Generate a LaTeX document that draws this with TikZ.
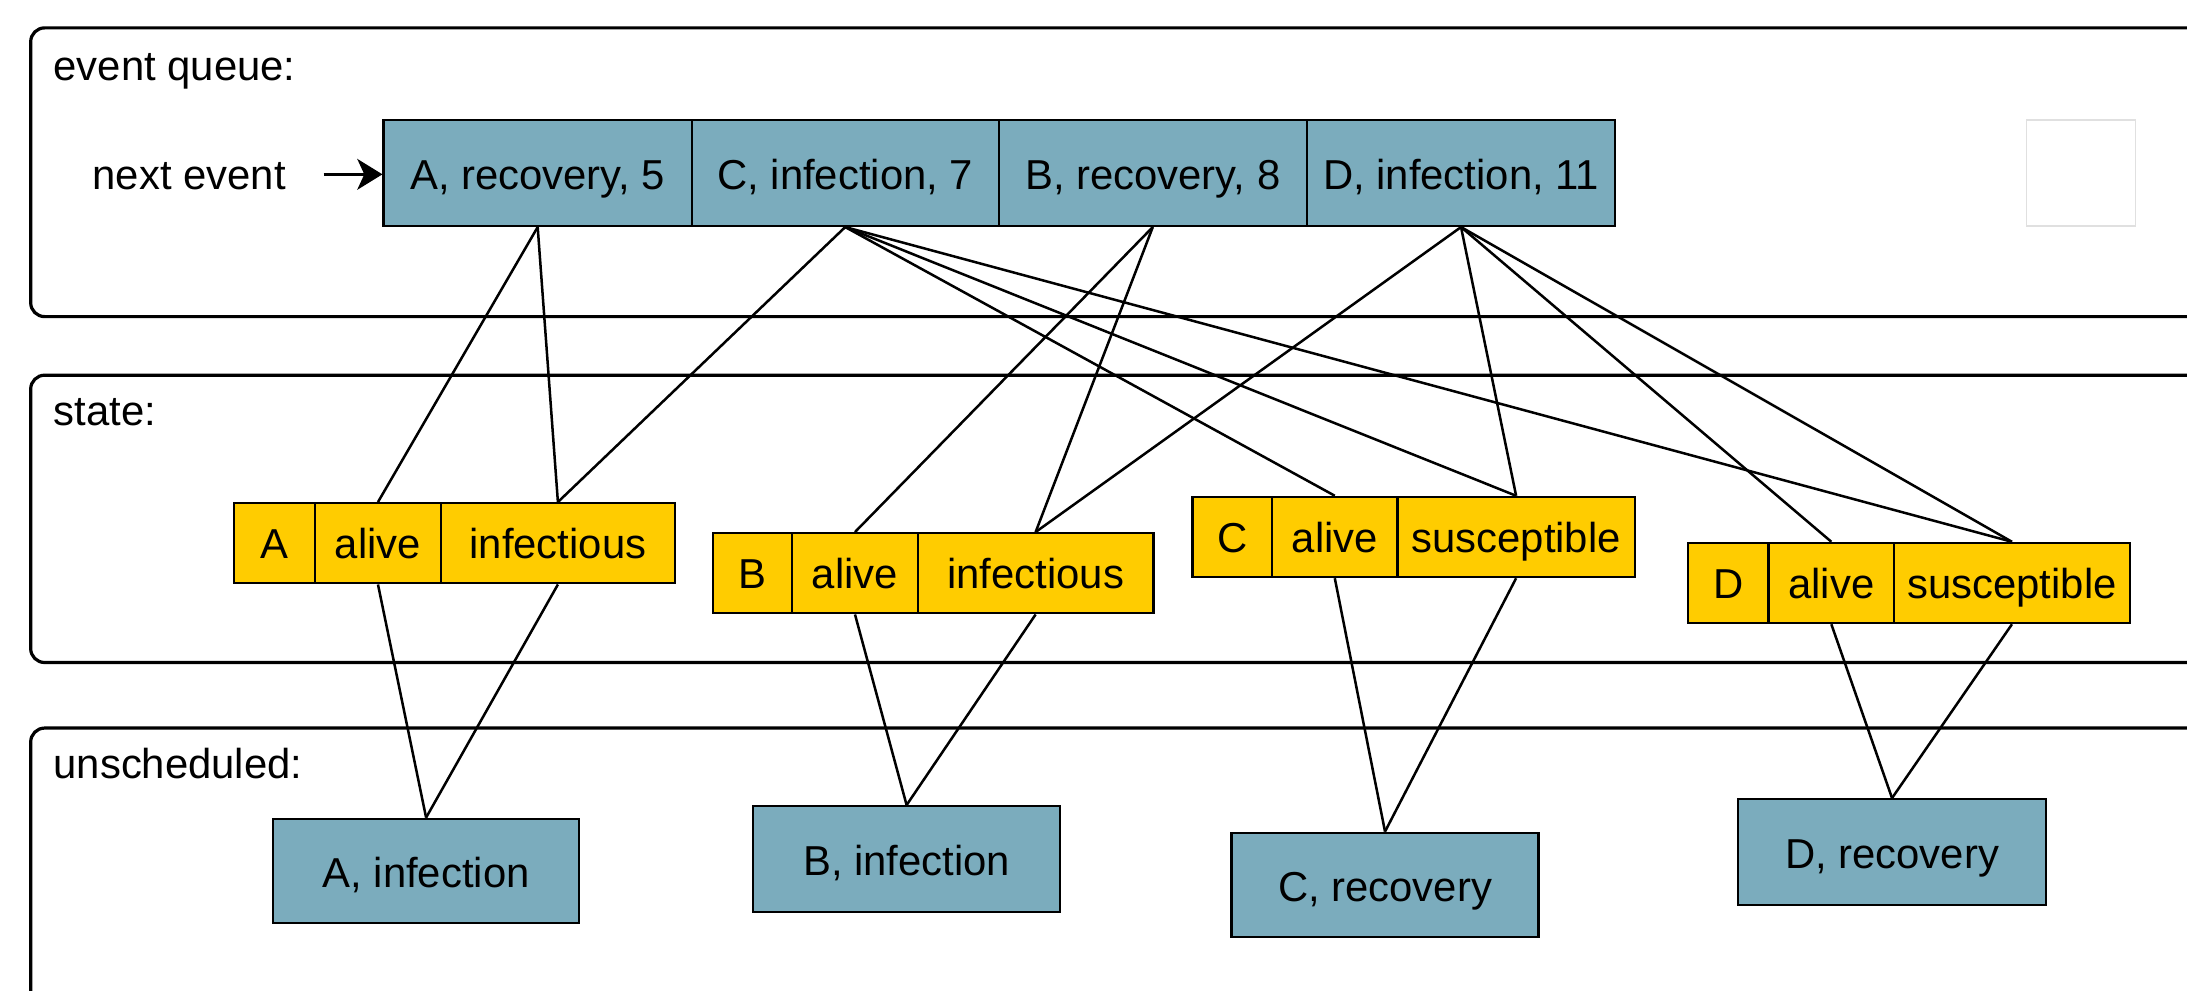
\documentclass[tikz,border=0pt]{standalone}
\usepackage{fontspec}
\setmainfont{Liberation Sans}
\usetikzlibrary{arrows.meta}
\definecolor{qblue}{RGB}{123,172,189}
\definecolor{sgold}{RGB}{255,204,0}
\begin{document}
\begin{tikzpicture}[x=0.5pt,y=-0.5pt,
  every node/.style={font=\fontsize{15}{18}\selectfont, inner sep=0pt},
  panel/.style={draw, line width=1.15pt, rounded corners=5pt},
  plabel/.style={anchor=base west},
  qcell/.style={draw, line width=0.8pt, fill=qblue, minimum height=38pt, text height=12pt, text depth=0pt},
  scell/.style={draw, line width=0.8pt, fill=sgold, minimum height=28.75pt, text height=11pt, text depth=0pt},
  ucell/.style={draw, line width=0.8pt, fill=qblue, text height=12pt, text depth=0pt},
  link/.style={line width=0.9pt}]
\useasboundingbox (0,0) rectangle (1568,710.5);
\clip (0,0) rectangle (1568,710.5);

% panels
\draw[panel] (22,20) rectangle (1610,227);
\draw[panel] (22,269) rectangle (1610,475);
\draw[panel] (22,522) rectangle (1610,780);
\node[plabel] (l1) at (38,58) {event queue:};
\node[plabel] (l2) at (38,305) {state:};
\node[plabel] (l3) at (38,558) {unscheduled:};

% event queue
\node[qcell, minimum width=110.5pt] (q1) at (385.5,124) {A, recovery, 5};
\node[qcell, minimum width=110pt] (q2) at (606,124) {C, infection, 7};
\node[qcell, minimum width=110.5pt] (q3) at (826.5,124) {B, recovery, 8};
\node[qcell, minimum width=110.5pt] (q4) at (1047.5,124) {D, infection, 11};
\node[draw=black!12, line width=0.5pt, minimum width=39pt, minimum height=38pt] (blank) at (1492,124) {};
\node[anchor=base west] (ne) at (66,136) {next event};
\coordinate (ns) at (232,125);
\draw[-{Stealth[length=9pt,width=11pt,inset=2.5pt]}, line width=1.2pt] (ns) -- (ns -| q1.west);

% state
\node[scell, minimum width=29pt] (an) at (197,389.5) {A};
\node[scell, minimum width=45pt] (aa) at (271,389.5) {alive};
\node[scell, minimum width=84pt] (ai) at (400,389.5) {infectious};
\node[scell, minimum width=28.5pt] (bn) at (539.5,411) {B};
\node[scell, minimum width=45pt] (ba) at (613,411) {alive};
\node[scell, minimum width=84.5pt] (bi) at (742.5,411) {infectious};
\node[scell, minimum width=28.5pt] (cn) at (883.5,385) {C};
\node[scell, minimum width=45pt] (ca) at (957,385) {alive};
\node[scell, minimum width=85pt] (cs) at (1087,385) {susceptible};
\node[scell, minimum width=29pt] (dn) at (1239,418) {D};
\node[scell, minimum width=45pt] (da) at (1313,418) {alive};
\node[scell, minimum width=84.5pt] (ds) at (1442.5,418) {susceptible};

% unscheduled
\node[ucell, minimum width=109.5pt, minimum height=37.5pt] (ua) at (305.5,624.5) {A, infection};
\node[ucell, minimum width=110pt, minimum height=38pt] (ub) at (650,616) {B, infection};
\node[ucell, minimum width=110pt, minimum height=37.5pt] (uc) at (993,634.5) {C, recovery};
\node[ucell, minimum width=110.5pt, minimum height=38pt] (ud) at (1356.5,611) {D, recovery};

% queue -> state
\draw[link] (q1.south) -- (aa.north);
\draw[link] (q1.south) -- (ai.north);
\draw[link] (q2.south) -- (ai.north);
\draw[link] (q2.south) -- (ca.north);
\draw[link] (q2.south) -- (cs.north);
\draw[link] (q2.south) -- (ds.north);
\draw[link] (q3.south) -- (ba.north);
\draw[link] (q3.south) -- (bi.north);
\draw[link] (q4.south) -- (bi.north);
\draw[link] (q4.south) -- (cs.north);
\draw[link] (q4.south) -- (da.north);
\draw[link] (q4.south) -- (ds.north);

% state -> unscheduled
\draw[link] (aa.south) -- (ua.north);
\draw[link] (ai.south) -- (ua.north);
\draw[link] (ba.south) -- (ub.north);
\draw[link] (bi.south) -- (ub.north);
\draw[link] (ca.south) -- (uc.north);
\draw[link] (cs.south) -- (uc.north);
\draw[link] (da.south) -- (ud.north);
\draw[link] (ds.south) -- (ud.north);
\end{tikzpicture}
\end{document}
